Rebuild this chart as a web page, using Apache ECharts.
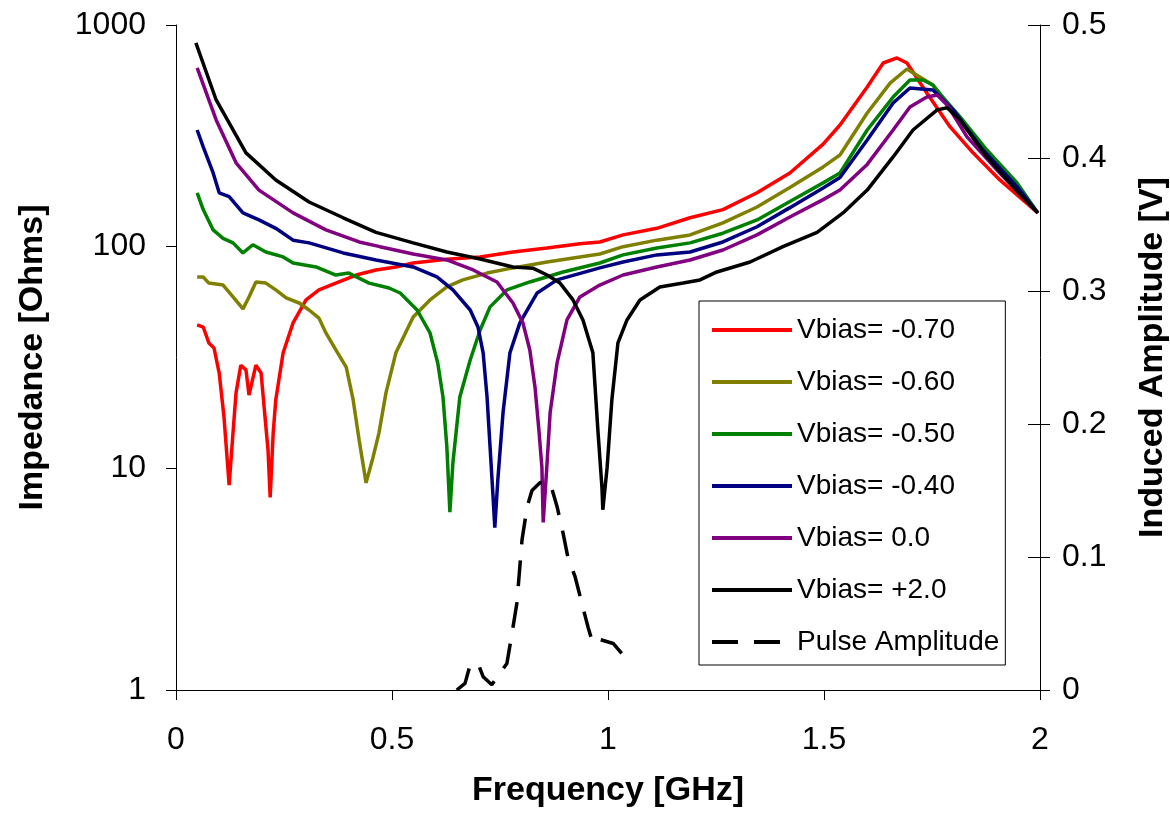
<!DOCTYPE html>
<html>
<head>
<meta charset="utf-8">
<script src="https://cdn.jsdelivr.net/npm/echarts@6/dist/echarts.min.js"></script>
<style>
html,body{margin:0;padding:0;background:#fff;}
#chart{width:1170px;height:819px;}
</style>
</head>
<body>
<div id="chart"></div>
<script>
// Frequency [GHz] vs Impedance [Ohms] for each bias
const seriesNames = ['Vbias= -0.70','Vbias= -0.60','Vbias= -0.50','Vbias= -0.40','Vbias= 0.0','Vbias= +2.0','Pulse Amplitude'];
const seriesColors = ['#FF0000','#808000','#008000','#000080','#800080','#000000','#000000'];
const xTickLabels = ['0','0.5','1','1.5','2'];

const vbiasM070 = [[0.049,44.4],[0.063,43.4],[0.076,36.8],[0.088,34.9],[0.100,26.9],[0.111,17.1],[0.123,8.4],[0.132,14.5],[0.139,21.9],[0.150,29.2],[0.162,27.8],[0.169,21.4],[0.185,29.2],[0.197,26.9],[0.204,18.9],[0.213,12.1],[0.218,7.4],[0.225,14.5],[0.231,20.4],[0.248,33.2],[0.271,45.3],[0.301,57.5],[0.331,63.8],[0.370,68.5],[0.417,74.5],[0.463,78.5],[0.509,81],[0.549,84.4],[0.627,87.7],[0.704,89.9],[0.780,94.6],[0.859,98.7],[0.935,103],[0.981,105],[1.035,113],[1.113,121],[1.190,135],[1.266,147],[1.345,175],[1.421,215],[1.498,290],[1.537,354],[1.600,525],[1.637,674],[1.669,710],[1.692,674],[1.738,493],[1.792,347],[1.845,265],[1.907,200],[1.995,142]];

const vbiasM060 = [[0.049,73],[0.063,73],[0.076,68.5],[0.109,67.1],[0.132,59.3],[0.155,52.4],[0.169,59.3],[0.185,69.3],[0.208,68.5],[0.231,63.8],[0.255,58.7],[0.285,55.7],[0.308,51.8],[0.331,47.6],[0.347,40.8],[0.370,34.2],[0.394,28.6],[0.410,20.4],[0.424,13.4],[0.440,8.6],[0.456,11.2],[0.470,14.5],[0.486,21.9],[0.509,33.2],[0.549,48.2],[0.588,57.5],[0.627,65.8],[0.664,70.8],[0.720,76],[0.780,80.2],[0.859,85.3],[0.935,89.9],[0.981,92.7],[1.035,100],[1.113,107],[1.190,113],[1.266,128],[1.345,151],[1.421,185],[1.498,229],[1.537,259],[1.600,401],[1.653,547],[1.692,633],[1.715,594],[1.752,536],[1.792,427],[1.831,336],[1.907,222],[1.995,142]];

const vbiasM050 = [[0.049,175],[0.063,147],[0.086,119],[0.109,109],[0.132,104],[0.155,93.7],[0.178,102],[0.208,94.6],[0.248,89.9],[0.271,84.4],[0.324,81],[0.370,74.5],[0.400,76],[0.447,68.5],[0.493,65.1],[0.519,61.8],[0.558,51.8],[0.588,40.8],[0.606,29.8],[0.618,21],[0.627,12.5],[0.634,6.35],[0.641,10.6],[0.657,21],[0.681,30.8],[0.704,42.1],[0.727,53.5],[0.766,63.8],[0.819,69.3],[0.896,76.9],[0.981,84.4],[1.035,91.8],[1.113,98.7],[1.190,104],[1.266,115],[1.345,132],[1.421,160],[1.498,194],[1.537,215],[1.600,336],[1.660,473],[1.699,565],[1.729,565],[1.752,536],[1.775,473],[1.815,385],[1.877,273],[1.947,194],[1.995,142]];

const vbiasM040 = [[0.049,336],[0.063,282],[0.086,215],[0.100,175],[0.123,168],[0.155,142],[0.192,132],[0.231,121],[0.271,107],[0.308,104],[0.387,93.7],[0.463,87.1],[0.549,81],[0.604,73],[0.641,63.8],[0.681,51.8],[0.699,43.4],[0.711,33.2],[0.720,21],[0.727,12.5],[0.734,7.4],[0.738,5.4],[0.745,8.9],[0.757,17.8],[0.773,33.2],[0.796,45.3],[0.836,61.8],[0.882,70.8],[0.981,80.2],[1.035,85.3],[1.113,91.8],[1.190,94.6],[1.266,105],[1.345,123],[1.421,150],[1.498,184],[1.537,205],[1.600,303],[1.660,445],[1.699,520],[1.752,509],[1.769,473],[1.799,414],[1.868,273],[1.947,186],[1.995,142]];

const vbias000 = [[0.049,640],[0.093,373],[0.139,239],[0.192,180],[0.271,142],[0.347,119],[0.424,105],[0.472,100],[0.549,92.7],[0.627,87.1],[0.688,78.5],[0.743,69.3],[0.780,55.7],[0.803,45.3],[0.819,34.2],[0.831,23.3],[0.840,14.9],[0.847,10.1],[0.850,5.7],[0.859,10.6],[0.866,17.8],[0.882,29.8],[0.905,46.7],[0.935,59.3],[0.981,67.1],[1.035,74.5],[1.113,81],[1.190,87.1],[1.266,96.6],[1.345,113],[1.421,136],[1.498,163],[1.537,180],[1.600,235],[1.660,336],[1.699,427],[1.738,473],[1.762,483],[1.785,436],[1.831,313],[1.907,215],[1.995,142]];

const vbiasP20 = [[0.046,830],[0.093,459],[0.162,265],[0.231,200],[0.308,159],[0.387,135],[0.463,116],[0.549,104],[0.627,94.6],[0.704,88],[0.780,81],[0.826,80],[0.859,74.5],[0.889,68.5],[0.919,57.5],[0.942,46.7],[0.965,33.2],[0.977,14.5],[0.986,8.2],[0.988,6.5],[0.998,10.1],[1.009,20.4],[1.023,36.8],[1.044,46.7],[1.074,57.5],[1.120,65.8],[1.174,68.5],[1.213,70.8],[1.252,76.9],[1.329,85.3],[1.405,100],[1.484,116],[1.544,142],[1.600,180],[1.660,254],[1.706,336],[1.762,414],[1.785,423],[1.815,373],[1.877,254],[1.938,186],[1.995,142]];

// Induced pulse amplitude [V] (right axis)
const pulseAmplitude = [[0.650,0.000],[0.669,0.005],[0.681,0.019],[0.699,0.020],[0.711,0.010],[0.731,0.004],[0.766,0.020],[0.778,0.043],[0.789,0.065],[0.801,0.113],[0.813,0.138],[0.824,0.150],[0.843,0.156],[0.866,0.156],[0.882,0.138],[0.896,0.118],[0.907,0.100],[0.924,0.085],[0.942,0.062],[0.954,0.047],[0.965,0.035],[0.981,0.038],[1.012,0.035],[1.044,0.023]];

const impedanceData = [vbiasM070, vbiasM060, vbiasM050, vbiasM040, vbias000, vbiasP20];

const FONT = '"Liberation Sans", Arial, sans-serif';
const chart = echarts.init(document.getElementById('chart'), null, {renderer:'canvas'});

const series = impedanceData.map((d,i)=>({
  name: seriesNames[i],
  type: 'line',
  xAxisIndex: 0,
  yAxisIndex: 0,
  data: d,
  symbol: 'none',
  smooth: false,
  lineStyle: {color: seriesColors[i], width: 3.5},
  itemStyle: {color: seriesColors[i]},
  animation: false,
  z: 2 + i
}));
series.push({
  name: seriesNames[6],
  type: 'line',
  xAxisIndex: 0,
  yAxisIndex: 1,
  data: pulseAmplitude,
  symbol: 'none',
  lineStyle: {color: '#000', width: 3.5, type: [26, 16]},
  itemStyle: {color: '#000'},
  animation: false,
  z: 10
});

const axisLine = {show: true, lineStyle: {color: '#000', width: 1}};
const labelStyle = {color: '#000', fontFamily: FONT, fontSize: 32};
const nameStyle = {color: '#000', fontFamily: FONT, fontSize: 34, fontWeight: 'bold'};

chart.setOption({
  animation: false,
  backgroundColor: '#fff',
  grid: {left: 176, right: 130, top: 25, bottom: 129, outerBoundsMode: 'none', containLabel: false},
  legend: {
    show: true,
    orient: 'vertical',
    left: 699, top: 301,
    padding: [15, 6, 9, 11],
    itemWidth: 80, itemHeight: 14,
    itemGap: 24,
    borderColor: '#000', borderWidth: 1,
    backgroundColor: '#fff',
    itemStyle: {opacity: 0},
    lineStyle: {width: 4},
    textStyle: {color: '#000', fontFamily: FONT, fontSize: 28},
    data: seriesNames
  },
  xAxis: {
    type: 'value', min: 0, max: 2, interval: 0.5,
    axisLine: axisLine,
    axisTick: {show: true, length: 10, lineStyle: {color: '#000'}},
    axisLabel: Object.assign({margin: 34, formatter: (v)=> xTickLabels[Math.round(v/0.5)]}, labelStyle),
    splitLine: {show: false},
    name: 'Frequency [GHz]', nameLocation: 'middle', nameGap: 84,
    nameTextStyle: nameStyle
  },
  yAxis: [
    {
      type: 'log', logBase: 10, min: 1, max: 1000, position: 'left',
      axisLine: axisLine,
      axisTick: {show: true, length: 10, lineStyle: {color: '#000'}},
      minorTick: {show: false},
      axisLabel: Object.assign({margin: 30, formatter: (v)=> String(Math.round(v))}, labelStyle),
      splitLine: {show: false},
      name: 'Impedance [Ohms]', nameLocation: 'middle', nameGap: 126, nameRotate: 90,
      nameTextStyle: nameStyle
    },
    {
      type: 'value', min: 0, max: 0.5, interval: 0.1, position: 'right',
      axisLine: axisLine,
      axisTick: {show: true, length: 10, lineStyle: {color: '#000'}},
      axisLabel: Object.assign({margin: 22, formatter: (v)=> v === 0 ? '0' : v.toFixed(1)}, labelStyle),
      splitLine: {show: false},
      name: 'Induced Amplitude [V]', nameLocation: 'middle', nameGap: 96, nameRotate: 90,
      nameTextStyle: nameStyle
    },
    {
      type: 'value', min: 0, max: 0.5, interval: 0.1, position: 'right',
      axisLine: {show: false},
      axisTick: {show: true, inside: true, length: 12, lineStyle: {color: '#000'}},
      axisLabel: {show: false},
      splitLine: {show: false}
    }
  ],
  series: series
});
</script>
</body>
</html>
